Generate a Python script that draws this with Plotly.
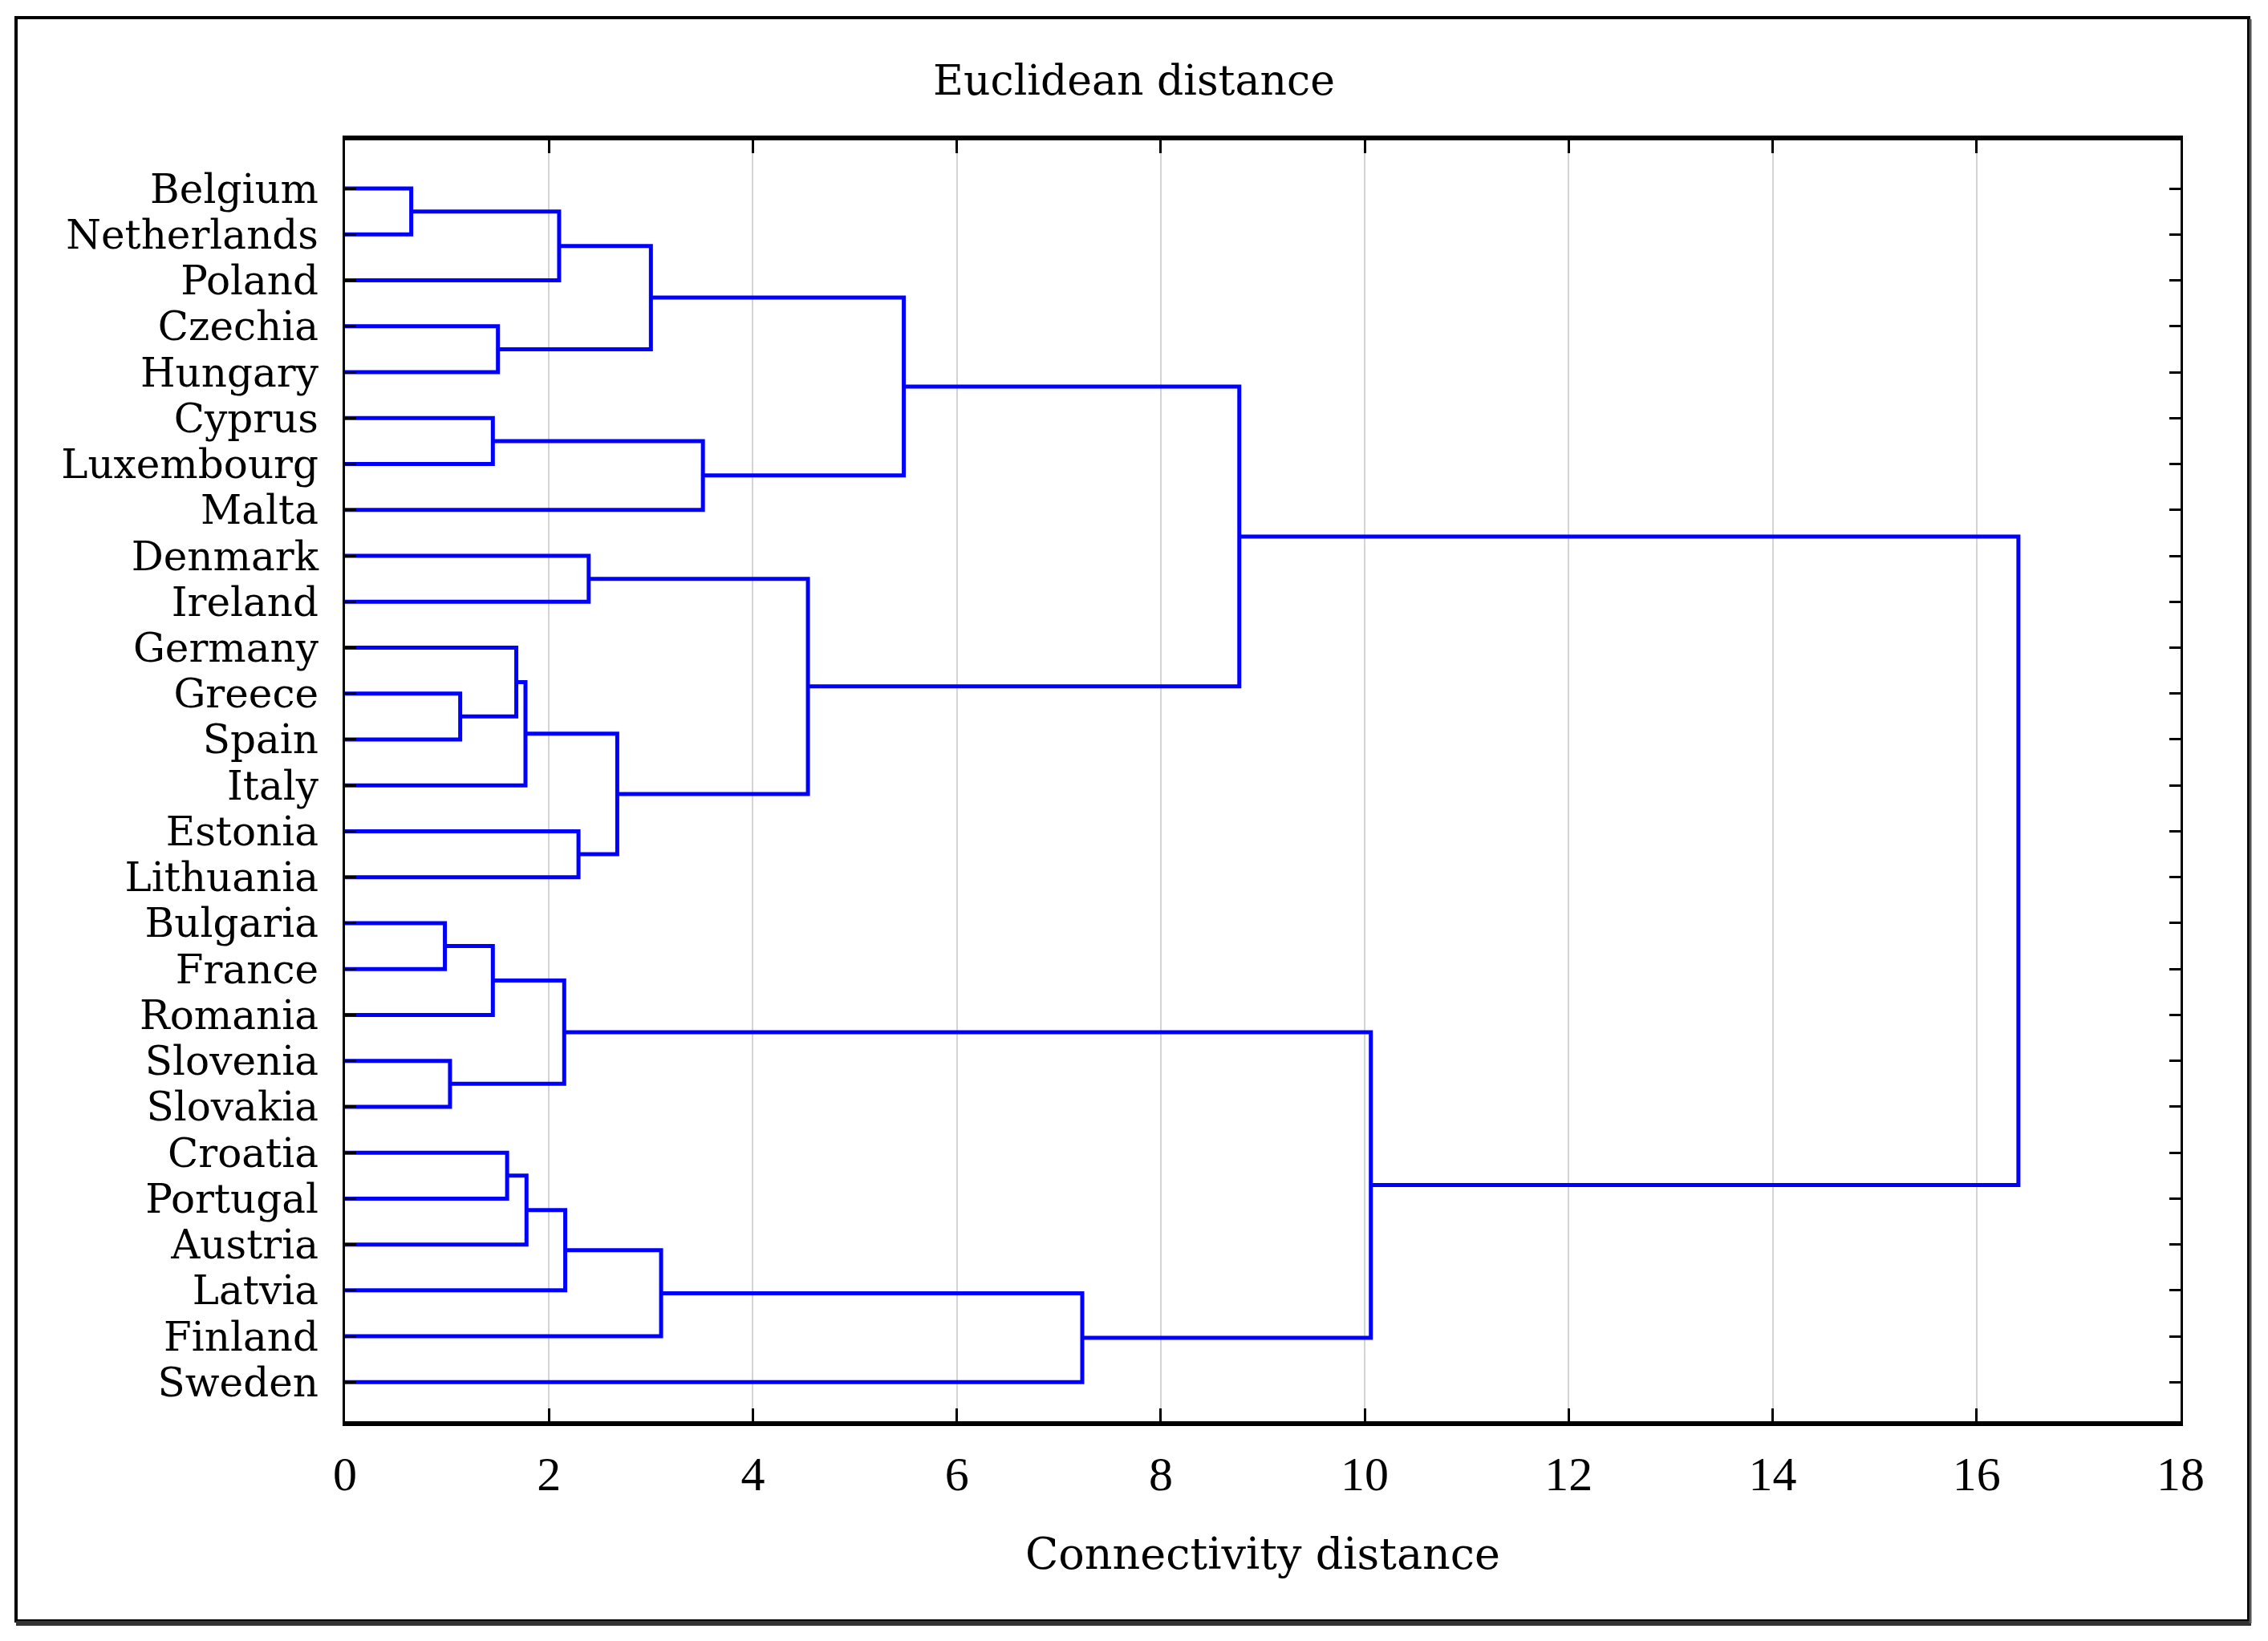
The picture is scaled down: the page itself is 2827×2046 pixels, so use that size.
import plotly.graph_objects as go

# ---------------- data ----------------
leaves = ["Belgium", "Netherlands", "Poland", "Czechia", "Hungary", "Cyprus",
          "Luxembourg", "Malta", "Denmark", "Ireland", "Germany", "Greece",
          "Spain", "Italy", "Estonia", "Lithuania", "Bulgaria", "France",
          "Romania", "Slovenia", "Slovakia", "Croatia", "Portugal", "Austria",
          "Latvia", "Finland", "Sweden"]

# merges: (left child, right child, linkage distance); children are leaf
# names or "m<k>" referring to earlier merges
merge_left = ["Belgium", "m0", "Czechia", "m1", "Cyprus", "m4", "m3",
              "Denmark", "Greece", "Germany", "m9", "Estonia", "m10", "m7",
              "m6", "Bulgaria", "m15", "Slovenia", "m16", "Croatia", "m19",
              "m20", "m21", "m22", "m18", "m14"]
merge_right = ["Netherlands", "Poland", "Hungary", "m2", "Luxembourg", "Malta",
               "m5", "Ireland", "Spain", "m8", "Italy", "Lithuania", "m11",
               "m12", "m13", "France", "Romania", "Slovakia", "m17", "Portugal",
               "Austria", "Latvia", "Finland", "Sweden", "m23", "m24"]
merge_height = [0.65, 2.10, 1.50, 3.00, 1.45, 3.51, 5.48,
                2.39, 1.13, 1.68, 1.77, 2.29, 2.67, 4.54,
                8.77, 0.98, 1.45, 1.03, 2.15, 1.59, 1.78,
                2.16, 3.10, 7.23, 10.06, 16.41]

x_ticks = [0, 2, 4, 6, 8, 10, 12, 14, 16, 18]

title_text = "Euclidean distance"
x_title = "Connectivity distance"

# ---------------- build dendrogram segments ----------------
pos = {name: (0.0, float(i)) for i, name in enumerate(leaves)}
xs, ys = [], []
for k, (a, b, h) in enumerate(zip(merge_left, merge_right, merge_height)):
    ha, ya = pos[a]
    hb, yb = pos[b]
    xs += [ha, h, h, hb, None]
    ys += [ya, ya, yb, yb, None]
    pos[f"m{k}"] = (h, (ya + yb) / 2.0)

# page is 2827x2046; the html body has an 8px margin, so work in figure px
OFF = 8
W, H = 2827 - 2 * OFF, 2046 - 2 * OFF
L, R, T, B = 430 - OFF, 2718 - OFF, 175 - OFF, 1772 - OFF
pw, ph = R - L, B - T


def px(x):
    return (x - OFF - L) / pw


def py(y):
    return (B - (y - OFF)) / ph


SERIF = "DejaVu Serif, Liberation Serif, serif"
TIMES = "Liberation Serif, Times New Roman, serif"
BLUE = "#0000ff"

fig = go.Figure()
fig.add_trace(go.Scatter(x=xs, y=ys, mode="lines",
                         line=dict(color=BLUE, width=5),
                         hoverinfo="skip", showlegend=False))

fig.update_layout(
    width=W, height=H,
    margin=dict(l=L, r=W - R, t=T, b=H - B, autoexpand=False),
    paper_bgcolor="white", plot_bgcolor="white",
    font=dict(family=SERIF, size=50, color="black"),
    title=dict(text=title_text, x=0.5, xref="container",
               xanchor="center", y=1 - (100 - OFF) / H, yanchor="middle",
               font=dict(family=SERIF, size=52, color="black")),
    showlegend=False,
)

fig.update_xaxes(
    range=[0, 18], tickvals=x_ticks, ticktext=[str(t) for t in x_ticks],
    showgrid=True, gridcolor="#d4d4d4", gridwidth=2,
    showline=True, linecolor="black", linewidth=6, mirror="ticks",
    ticks="inside", ticklen=16, tickwidth=3, tickcolor="black",
    tickfont=dict(family=TIMES, size=60, color="black"),
    ticklabelstandoff=8,
    zeroline=False,
    title=dict(text=x_title, standoff=50,
               font=dict(family=SERIF, size=54, color="black")),
)
fig.update_yaxes(
    range=[len(leaves) - 0.15, -1.05],
    tickvals=list(range(len(leaves))), ticktext=leaves,
    showgrid=False, zeroline=False,
    showline=True, linecolor="black", linewidth=3, mirror="ticks",
    ticks="inside", ticklen=14, tickwidth=3, tickcolor="black",
    tickfont=dict(family=SERIF, size=50, color="black"),
    ticklabelstandoff=20,
)

# outer frame of the figure
fig.add_shape(type="rect", xref="paper", yref="paper",
              x0=px(20), x1=px(2803), y0=py(2021), y1=py(22),
              line=dict(color="black", width=4), layer="below")
fig.add_shape(type="line", xref="paper", yref="paper",
              x0=px(20), x1=px(2806), y0=py(2024), y1=py(2024),
              line=dict(color="#333333", width=6))
fig.add_shape(type="line", xref="paper", yref="paper",
              x0=px(2805), x1=px(2805), y0=py(2024), y1=py(24),
              line=dict(color="#555555", width=3))

fig.write_html("out.html")
